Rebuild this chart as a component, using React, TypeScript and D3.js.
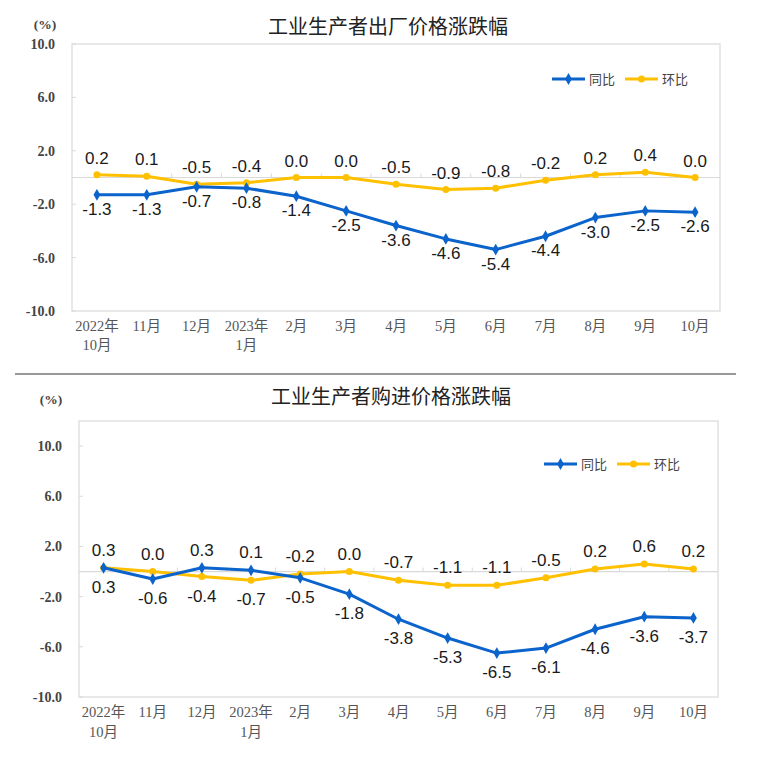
import React from "react";
import * as d3 from "d3";

const months = ["2022年|10月", "11月", "12月", "2023年|1月", "2月", "3月", "4月", "5月", "6月", "7月", "8月", "9月", "10月"];
const yTicks = [-10, -6, -2, 2, 6, 10];

const outYoY = [-1.3, -1.3, -0.7, -0.8, -1.4, -2.5, -3.6, -4.6, -5.4, -4.4, -3.0, -2.5, -2.6];
const outMoM = [0.2, 0.1, -0.5, -0.4, 0.0, 0.0, -0.5, -0.9, -0.8, -0.2, 0.2, 0.4, 0.0];

const inYoY = [0.3, -0.6, 0.3, 0.1, -0.5, -1.8, -3.8, -5.3, -6.5, -6.1, -4.6, -3.6, -3.7];
const inMoM = [0.3, 0.0, -0.4, -0.7, -0.2, 0.0, -0.7, -1.1, -1.1, -0.5, 0.2, 0.6, 0.2];

const BLUE = "#0B63CC";
const YELLOW = "#FFC000";
const SANS = "'Liberation Sans', Arial, 'Noto Sans CJK SC', sans-serif";
const SERIF = "'Liberation Serif', 'Times New Roman', 'Noto Sans CJK SC', serif";
const CJK = "'Noto Sans CJK SC', sans-serif";

type ChartProps = {
  title: string;
  titleX: number;
  titleY: number;
  pctX: number;
  pctY: number;
  x0: number;
  x1: number;
  y0: number;
  y1: number;
  yMin: number;
  yMax: number;
  tickX: number;
  xl1: number;
  xl2: number;
  legY: number;
  legX: number;
  above: number;
  below: number;
  yoy: number[];
  mom: number[];
};

function Chart(p: ChartProps) {
  const x = d3.scaleBand<string>().domain(months).range([p.x0, p.x1]);
  const y = d3.scaleLinear().domain([p.yMin, p.yMax]).range([p.y1, p.y0]);
  const cx = (i: number) => (x(months[i]) as number) + x.bandwidth() / 2;
  const line = d3
    .line<number>()
    .x((_, i) => cx(i))
    .y((d) => y(d));
  const zero = y(0);
  const diamond = d3.symbol().type(d3.symbolDiamond).size(40)() as string;
  return (
    <g>
      <text x={p.titleX} y={p.titleY} textAnchor="middle" fontFamily={CJK} fontSize={20} fill="#222">
        {p.title}
      </text>
      <text x={p.pctX} y={p.pctY} textAnchor="middle" fontFamily={SERIF} fontSize={13.5} fontWeight="bold" fill="#444">
        (%)
      </text>
      <rect x={p.x0} y={p.y0} width={p.x1 - p.x0} height={p.y1 - p.y0} fill="none" stroke="#d9d9d9" strokeWidth={1.2} />
      {yTicks.map((t) => (
        <g key={t}>
          <line x1={p.x0} x2={p.x0 + 4} y1={y(t)} y2={y(t)} stroke="#d9d9d9" />
          <text x={p.tickX} y={y(t) + 5} textAnchor="end" fontFamily={SERIF} fontSize={14} fontWeight="bold" fill="#444">
            {t.toFixed(1)}
          </text>
        </g>
      ))}
      <line x1={p.x0} x2={p.x1} y1={zero} y2={zero} stroke="#d9d9d9" strokeWidth={1.2} />
      {months.slice(1).map((m) => (
        <line key={m + "t"} x1={x(m) as number} x2={x(m) as number} y1={zero} y2={zero - 4} stroke="#d9d9d9" />
      ))}
      {months.map((m, i) => {
        const parts = m.split("|");
        return (
          <text key={m + i} textAnchor="middle" fontFamily={SERIF} fontSize={14.5} fill="#555">
            <tspan x={cx(i)} y={p.xl1}>{parts[0]}</tspan>
            {parts[1] && (
              <tspan x={cx(i)} y={p.xl2}>{parts[1]}</tspan>
            )}
          </text>
        );
      })}
      <path d={line(p.mom) as string} fill="none" stroke={YELLOW} strokeWidth={3} strokeLinejoin="round" />
      {p.mom.map((v, i) => (
        <circle key={"m" + i} cx={cx(i)} cy={y(v)} r={3.5} fill={YELLOW} />
      ))}
      <path d={line(p.yoy) as string} fill="none" stroke={BLUE} strokeWidth={3} strokeLinejoin="round" />
      {p.yoy.map((v, i) => (
        <path key={"y" + i} d={diamond} transform={`translate(${cx(i)},${y(v)})`} fill={BLUE} />
      ))}
      {months.map((m, i) => {
        const blueUp = p.yoy[i] > p.mom[i];
        const items = [
          { v: p.yoy[i], up: blueUp },
          { v: p.mom[i], up: !blueUp },
        ];
        return items.map((it, k) => (
          <text
            key={m + "l" + k}
            x={cx(i)}
            y={y(it.v) + (it.up ? p.above : p.below)}
            textAnchor="middle"
            fontFamily={SANS}
            fontSize={17}
            fill="#1a1a1a"
          >
            {it.v.toFixed(1)}
          </text>
        ));
      })}
      <g>
        <line x1={p.legX} x2={p.legX + 33} y1={p.legY} y2={p.legY} stroke={BLUE} strokeWidth={3} />
        <path d={diamond} transform={`translate(${p.legX + 16.5},${p.legY})`} fill={BLUE} />
        <text x={p.legX + 37} y={p.legY + 4.5} fontFamily={CJK} fontSize={13} fill="#444">
          同比
        </text>
        <line x1={p.legX + 73} x2={p.legX + 106} y1={p.legY} y2={p.legY} stroke={YELLOW} strokeWidth={3} />
        <circle cx={p.legX + 89.5} cy={p.legY} r={3.5} fill={YELLOW} />
        <text x={p.legX + 110} y={p.legY + 4.5} fontFamily={CJK} fontSize={13} fill="#444">
          环比
        </text>
      </g>
    </g>
  );
}

export default function App() {
  return (
    <svg
      width={763}
      height={760}
      style={{ position: "absolute", left: 0, top: 0, background: "#fff" }}
    >
      <rect width={763} height={760} fill="#fff" />
      <Chart
        title="工业生产者出厂价格涨跌幅"
        titleX={388}
        titleY={34}
        pctX={45}
        pctY={29}
        x0={72}
        x1={720}
        y0={44}
        y1={311}
        yMin={-10}
        yMax={10}
        tickX={55}
        xl1={331}
        xl2={350}
        legY={79}
        legX={552}
        above={-11}
        below={20}
        yoy={outYoY}
        mom={outMoM}
      />
      <line x1={15} x2={736} y1={374} y2={374} stroke="#333" strokeWidth={1.2} />
      <Chart
        title="工业生产者购进价格涨跌幅"
        titleX={391}
        titleY={404}
        pctX={51}
        pctY={404}
        x0={79}
        x1={718}
        y0={421}
        y1={697}
        yMin={-10}
        yMax={12}
        tickX={62}
        xl1={717}
        xl2={737}
        legY={464}
        legX={544}
        above={-12}
        below={25}
        yoy={inYoY}
        mom={inMoM}
      />
    </svg>
  );
}
